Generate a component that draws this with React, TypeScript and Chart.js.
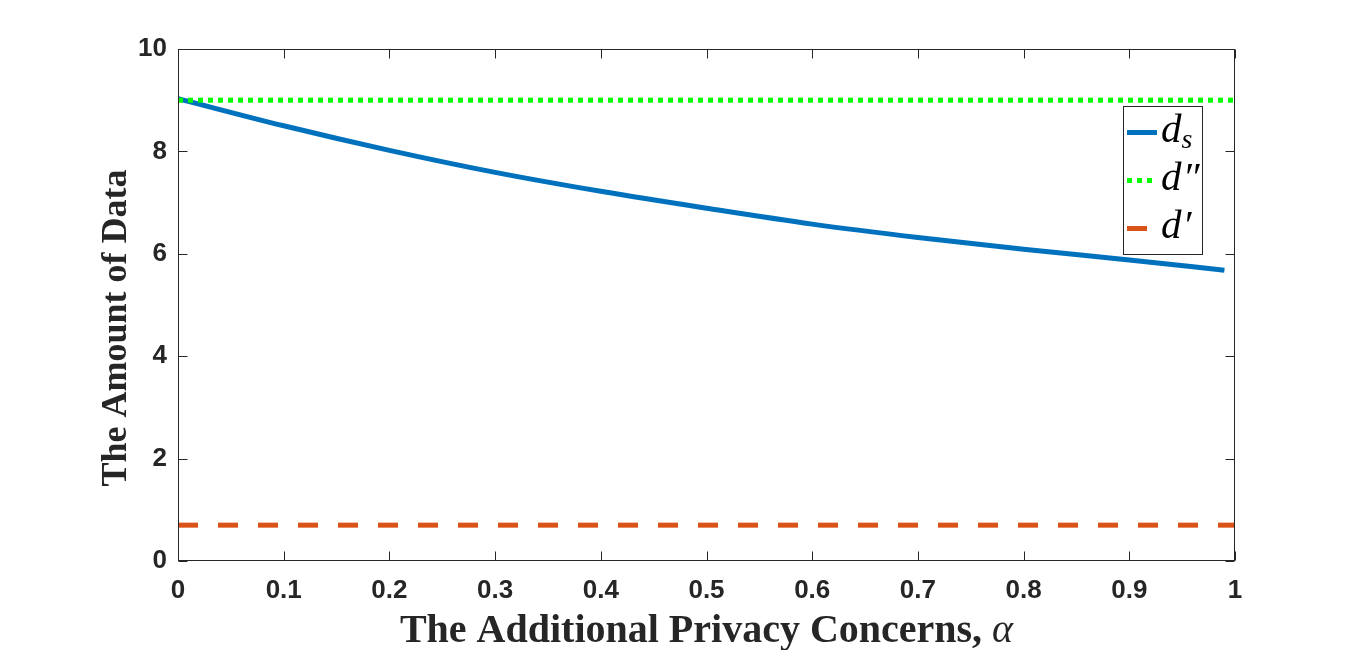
import React, { useEffect, useRef } from 'react';
import { Chart, registerables } from 'chart.js';

Chart.register(...registerables);

// ---- data ----
const alphaValues = [0, 0.1, 0.2, 0.3, 0.4, 0.5, 0.6, 0.7, 0.8, 0.9, 0.99];
const dsValues = [9.03, 8.5, 8.02, 7.59, 7.22, 6.89, 6.58, 6.32, 6.09, 5.88, 5.68];
const dDoublePrimeX = [0, 1];
const dDoublePrimeValues = [9, 9];
const dPrimeX = [0, 1];
const dPrimeValues = [0.7, 0.7];

const xTickValues = [0, 0.1, 0.2, 0.3, 0.4, 0.5, 0.6, 0.7, 0.8, 0.9, 1];
const xTickLabels = ['0', '0.1', '0.2', '0.3', '0.4', '0.5', '0.6', '0.7', '0.8', '0.9', '1'];
const yTickValues = [0, 2, 4, 6, 8, 10];
const yTickLabels = ['0', '2', '4', '6', '8', '10'];

const seriesBase = ['d', 'd', 'd'];
const seriesSub = ['s', '', ''];
const seriesSup = ['', '\u2033', '\u2032'];

const xTitle = 'The Additional Privacy Concerns, ';
const xTitleSymbol = '\u03B1';
const yTitle = 'The Amount of Data';

const BLUE = '#0072BD';
const GREEN = '#00FF00';
const ORANGE = '#D95319';
const AXIS = '#262626';

const SERIF = '"Liberation Serif", "Times New Roman", "DejaVu Serif", serif';
const SANS = '"Liberation Sans", Arial, Helvetica, sans-serif';

const styles = [
  { color: BLUE, width: 5, dash: [] as number[] },
  { color: GREEN, width: 5, dash: [5, 5] },
  { color: ORANGE, width: 5, dash: [20, 20] },
];

const decorPlugin = {
  id: 'decor',
  afterDatasetsDraw(chart: any) {
    const { ctx, chartArea, scales } = chart;
    const { left, right, top, bottom } = chartArea;
    ctx.save();
    // frame
    ctx.strokeStyle = AXIS;
    ctx.lineWidth = 1;
    ctx.setLineDash([]);
    const L = Math.round(left) + 0.5;
    const R = Math.round(right) - 0.5;
    const T = Math.round(top) + 0.5;
    const B = Math.round(bottom) - 0.5;
    ctx.strokeRect(L, T, R - L, B - T);
    // inner ticks
    ctx.beginPath();
    for (const v of xTickValues) {
      const px = Math.round(scales.x.getPixelForValue(v)) + 0.5;
      ctx.moveTo(px, B);
      ctx.lineTo(px, B - 9);
      ctx.moveTo(px, T);
      ctx.lineTo(px, T + 9);
    }
    for (const v of yTickValues) {
      const py = Math.round(scales.y.getPixelForValue(v)) + 0.5;
      ctx.moveTo(L, py);
      ctx.lineTo(L + 9, py);
      ctx.moveTo(R, py);
      ctx.lineTo(R - 9, py);
    }
    ctx.stroke();

    // legend box
    const bx = 1123.5, by = 106.5, bw = 79, bh = 148;
    ctx.fillStyle = '#ffffff';
    ctx.fillRect(bx, by, bw, bh);
    ctx.strokeStyle = AXIS;
    ctx.strokeRect(bx, by, bw, bh);
    const rowY = [132.5, 180.5, 228.5];
    for (let i = 0; i < styles.length; i++) {
      const s = styles[i];
      ctx.beginPath();
      ctx.strokeStyle = s.color;
      ctx.lineWidth = s.width;
      ctx.lineCap = 'butt';
      ctx.setLineDash(s.dash);
      ctx.moveTo(1127, rowY[i]);
      ctx.lineTo(1157, rowY[i]);
      ctx.stroke();
      ctx.setLineDash([]);
      // label
      ctx.fillStyle = '#000000';
      ctx.textAlign = 'left';
      ctx.textBaseline = 'alphabetic';
      ctx.font = `italic 41px ${SERIF}`;
      const tx = 1161;
      const base = rowY[i] + 9;
      ctx.fillText(seriesBase[i], tx, base);
      const w = ctx.measureText(seriesBase[i]).width;
      if (seriesSub[i]) {
        ctx.font = `italic 28px ${SERIF}`;
        ctx.fillText(seriesSub[i], tx + w, base + 6);
      }
      if (seriesSup[i]) {
        ctx.font = `italic 41px ${SERIF}`;
        ctx.fillText(seriesSup[i], tx + w + 1, base);
      }
    }
    ctx.restore();
  },
  afterDraw(chart: any) {
    const { ctx, chartArea } = chart;
    const cx = (chartArea.left + chartArea.right) / 2;
    ctx.save();
    ctx.fillStyle = AXIS;
    ctx.textBaseline = 'alphabetic';
    ctx.textAlign = 'left';
    // x title
    ctx.font = `bold 40px ${SERIF}`;
    const w1 = ctx.measureText(xTitle).width;
    ctx.font = `italic 40px ${SERIF}`;
    const w2 = ctx.measureText(xTitleSymbol).width;
    const startX = cx - (w1 + w2) / 2;
    ctx.font = `bold 40px ${SERIF}`;
    ctx.fillText(xTitle, startX, 642);
    ctx.font = `italic 40px ${SERIF}`;
    ctx.fillText(xTitleSymbol, startX + w1, 642);
    // y title
    ctx.translate(126, 328);
    ctx.rotate(-Math.PI / 2);
    ctx.font = `bold 36px ${SERIF}`;
    ctx.textAlign = 'center';
    ctx.fillText(yTitle, 0, 0);
    ctx.restore();
  },
};

export default function App() {
  const canvasRef = useRef<HTMLCanvasElement | null>(null);

  useEffect(() => {
    const canvas = canvasRef.current;
    if (!canvas) return;
    const chart = new Chart(canvas, {
      type: 'line',
      data: {
        datasets: [
          {
            label: 'd_s',
            data: alphaValues.map((x, i) => ({ x, y: dsValues[i] })),
            borderColor: BLUE,
            borderWidth: 5,
            pointRadius: 0,
            cubicInterpolationMode: 'monotone',
            fill: false,
            order: 2,
          },
          {
            label: "d''",
            data: dDoublePrimeX.map((x, i) => ({ x, y: dDoublePrimeValues[i] })),
            borderColor: GREEN,
            borderWidth: 5,
            borderDash: [5, 5],
            borderCapStyle: 'butt',
            pointRadius: 0,
            fill: false,
            order: 1,
          },
          {
            label: "d'",
            data: dPrimeX.map((x, i) => ({ x, y: dPrimeValues[i] })),
            borderColor: ORANGE,
            borderWidth: 5,
            borderDash: [20, 20],
            borderCapStyle: 'butt',
            pointRadius: 0,
            fill: false,
            order: 0,
          },
        ],
      },
      options: {
        responsive: false,
        animation: false,
        layout: { padding: { left: 0, top: 49, right: 131, bottom: 0 } },
        plugins: {
          legend: { display: false },
          tooltip: { enabled: false },
        },
        scales: {
          x: {
            type: 'linear',
            min: 0,
            max: 1,
            afterBuildTicks: (scale: any) => {
              scale.ticks = xTickValues.map((v) => ({ value: v }));
            },
            afterFit: (scale: any) => {
              scale.height = 89;
            },
            grid: { display: true, drawOnChartArea: false, drawTicks: false },
            border: { display: false },
            ticks: {
              padding: 14,
              color: AXIS,
              font: { family: SANS, size: 26, weight: 'bold' },
              maxRotation: 0,
              autoSkip: false,
              callback: (_v: any, i: number) => xTickLabels[i],
            },
          },
          y: {
            type: 'linear',
            min: 0,
            max: 10,
            afterBuildTicks: (scale: any) => {
              scale.ticks = yTickValues.map((v) => ({ value: v }));
            },
            afterFit: (scale: any) => {
              scale.width = 178;
            },
            grid: { display: true, drawOnChartArea: false, drawTicks: false },
            border: { display: false },
            ticks: {
              padding: 11,
              color: AXIS,
              font: { family: SANS, size: 26, weight: 'bold' },
              autoSkip: false,
              callback: (_v: any, i: number) => yTickLabels[i],
            },
          },
        },
      },
      plugins: [decorPlugin],
    });
    return () => chart.destroy();
  }, []);

  return (
    <div style={{ position: 'absolute', left: 0, top: 0, width: 1366, height: 650, background: '#ffffff' }}>
      <canvas ref={canvasRef} width={1366} height={650} style={{ display: 'block', width: 1366, height: 650 }} />
    </div>
  );
}
